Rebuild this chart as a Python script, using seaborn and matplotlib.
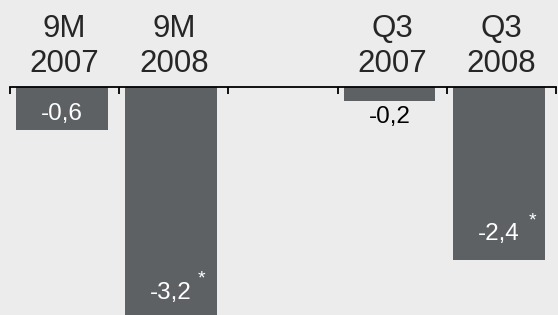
import matplotlib
matplotlib.use("Agg")
import matplotlib.pyplot as plt
import pandas as pd
import seaborn as sns

# chart data
periods = ["9M\n2007", "9M\n2008", " ", "Q3\n2007", "Q3\n2008"]
bar_periods = ["9M\n2007", "9M\n2008", "Q3\n2007", "Q3\n2008"]
values = [-0.6, -3.2, -0.2, -2.4]
value_labels = ["-0,6", "-3,2", "-0,2", "-2,4"]
starred = [False, True, False, True]

BG = "#ebeceb"
BAR = "#5e6164"

df = pd.DataFrame({"period": bar_periods, "value": values})

sns.set_theme(style="white")
plt.rcParams["font.family"] = ["Liberation Sans", "DejaVu Sans"]

fig = plt.figure(figsize=(5.58, 3.15), dpi=100)
fig.patch.set_facecolor(BG)
ax = fig.add_axes([10 / 558, 0, 546 / 558, 1 - 87 / 315])
ax.set_facecolor(BG)

sns.barplot(data=df, x="period", y="value", order=periods, color=BAR,
            saturation=1, width=0.84, linewidth=0, ax=ax)

# bars sit a little left of the slot centres in the original
for patch in ax.patches:
    patch.set_x(patch.get_x() - 0.025)

ax.set_xlim(-0.5, 4.5)
ax.set_ylim(-3.17, 0)
ax.set_xlabel("")
ax.set_ylabel("")
ax.set_yticks([])

for s in ["left", "right", "bottom"]:
    ax.spines[s].set_visible(False)
ax.spines["top"].set_color("black")
ax.spines["top"].set_linewidth(1.3)

ax.xaxis.tick_top()
ax.set_xticks(range(len(periods)))
ax.set_xticklabels(periods, fontsize=22.5, linespacing=1.22)
ax.set_xticks([i - 0.5 for i in range(len(periods) + 1)], minor=True)
ax.tick_params(axis="x", which="major", length=0, pad=6)
ax.tick_params(axis="x", which="minor", direction="in", length=5,
               width=1.3, color="black", top=True, bottom=False)

# value labels (baseline positions)
label_y = [-0.46, -2.95, -0.50, -2.13]
star_xy = [None, (1.249, -2.67), None, (4.289, -1.86)]
for i, (p, v, lab, st) in enumerate(zip(bar_periods, values, value_labels, starred)):
    x = periods.index(p) - 0.025
    color = "white" if abs(v) > 0.3 else "black"
    ax.text(x, label_y[i], lab, ha="center", va="baseline", fontsize=17.5,
            color=color)
    if st:
        sx, sy = star_xy[i]
        ax.text(sx, sy, "*", ha="center", va="center", fontsize=14,
                color=color)

fig.savefig("out.png", dpi=100, facecolor=BG)
